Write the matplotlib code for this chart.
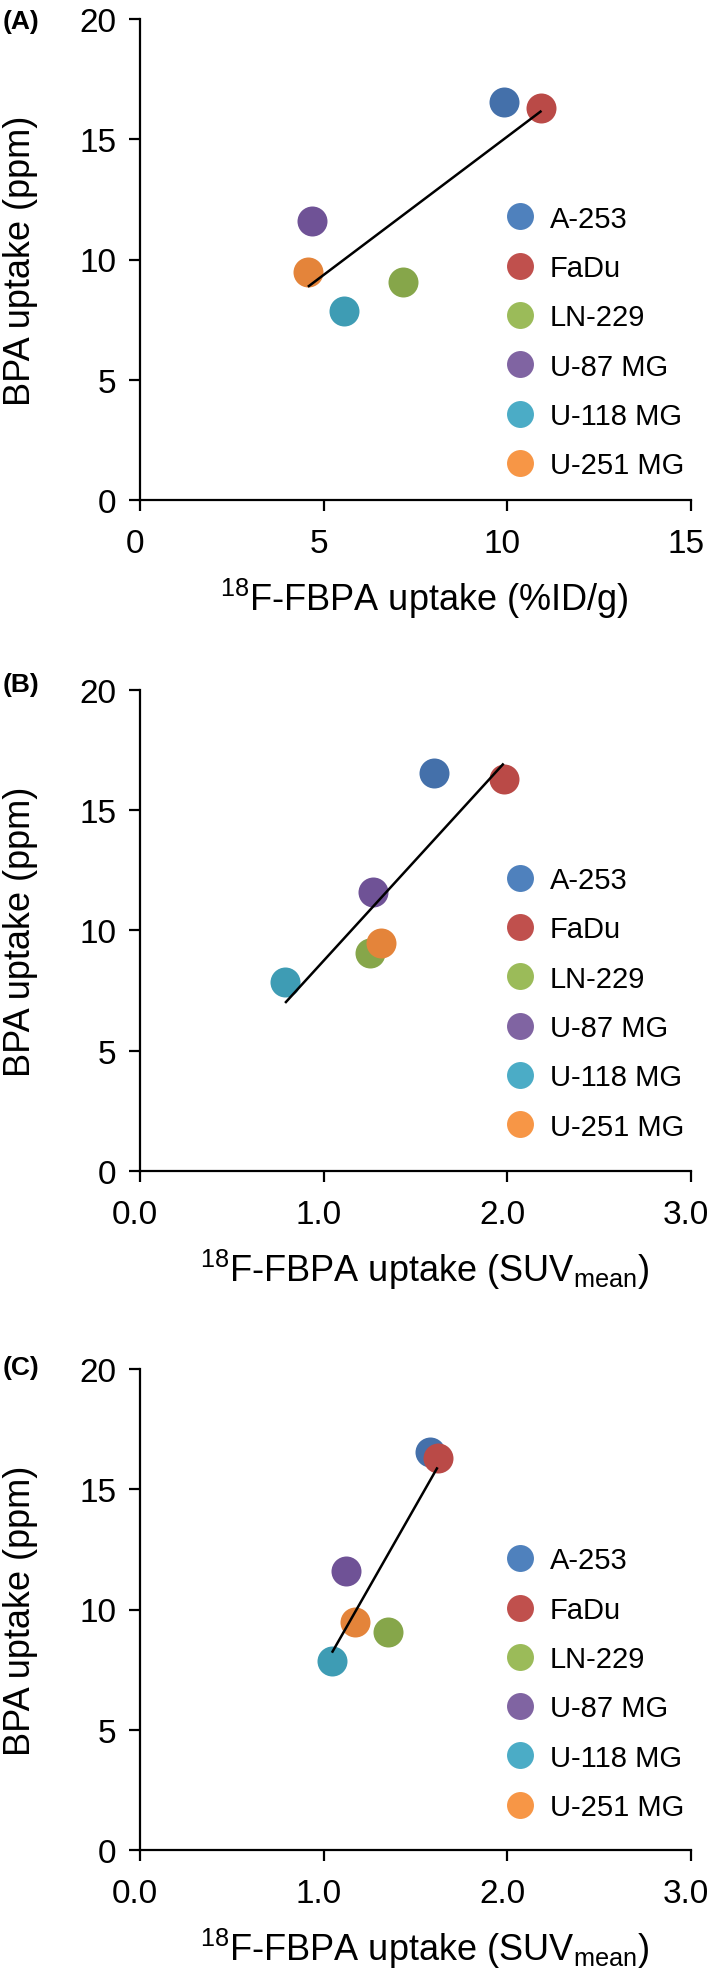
import numpy as np
import matplotlib
matplotlib.use("Agg")
import matplotlib.pyplot as plt
import matplotlib.transforms as mtransforms
from matplotlib.lines import Line2D

plt.rcParams['font.family'] = ['Liberation Sans', 'DejaVu Sans']
plt.rcParams['mathtext.fontset'] = 'custom'
plt.rcParams['mathtext.rm'] = 'Liberation Sans'
plt.rcParams['mathtext.it'] = 'Liberation Sans:italic'
plt.rcParams['mathtext.bf'] = 'Liberation Sans:bold'

# ---------------- data ----------------
cell_lines = ["A-253", "FaDu", "LN-229", "U-87 MG", "U-118 MG", "U-251 MG"]
bpa_ppm = [16.55, 16.30, 9.07, 11.60, 7.87, 9.48]
fbpa_idg = [9.90, 10.93, 7.16, 4.67, 5.56, 4.57]        # panel A
fbpa_suv_b = [1.60, 1.98, 1.25, 1.27, 0.79, 1.31]       # panel B
fbpa_suv_c = [1.58, 1.62, 1.35, 1.12, 1.045, 1.17]      # panel C

legend_colors = ["#4F81BD", "#C0504D", "#9BBB59", "#8064A2", "#4BACC6", "#F79646"]
point_colors = ["#4470AA", "#BA4A47", "#86A64A", "#6F5296", "#3E9CB4", "#E4843A"]

xticks_a = [0, 5, 10, 15]
xticklabels_a = ["0", "5", "10", "15"]
xticks_bc = [0, 1, 2, 3]
xticklabels_bc = ["0.0", "1.0", "2.0", "3.0"]
yticks = [0, 5, 10, 15, 20]

xlabel_a = r"$^{18}$F-FBPA uptake (%ID/g)"
xlabel_bc = r"$^{18}$F-FBPA uptake (SUV$_{\mathrm{mean}}$)"
ylabel = "BPA uptake (ppm)"

W, H = 709, 1983
fig = plt.figure(figsize=(W / 100, H / 100), dpi=100)

ax_left_px, ax_right_px = 140, 691
panels = [
    dict(tag="(A)", x=fbpa_idg, xlim=(0, 15), xt=xticks_a, xtl=xticklabels_a, xl=xlabel_a,
         top=20, bot=501, tagtop=10, legy=0.614),
    dict(tag="(B)", x=fbpa_suv_b, xlim=(0, 3), xt=xticks_bc, xtl=xticklabels_bc, xl=xlabel_bc,
         top=691, bot=1172, tagtop=673, legy=0.634),
    dict(tag="(C)", x=fbpa_suv_c, xlim=(0, 3), xt=xticks_bc, xtl=xticklabels_bc, xl=xlabel_bc,
         top=1370, bot=1851, tagtop=1356, legy=0.631),
]

draw_order = [0, 2, 3, 4, 5, 1]
shift = mtransforms.ScaledTranslation(-5 / 100, 0, fig.dpi_scale_trans)

for p in panels:
    ax = fig.add_axes([ax_left_px / W, 1 - p["bot"] / H,
                       (ax_right_px - ax_left_px) / W, (p["bot"] - p["top"]) / H])
    xs = np.array(p["x"])
    ys = np.array(bpa_ppm)
    for i in draw_order:
        ax.plot(xs[i], ys[i], 'o', ms=21.6, mfc=point_colors[i], mec='none', zorder=3,
                clip_on=False)
    slope, intercept = np.polyfit(xs, ys, 1)
    xf = np.array([xs.min(), xs.max()])
    ax.plot(xf, slope * xf + intercept, color='black', lw=1.8, zorder=4,
            solid_capstyle='butt')

    ax.set_xlim(*p["xlim"])
    ax.set_ylim(0, 20)
    ax.set_xticks(p["xt"])
    ax.set_xticklabels(p["xtl"])
    ax.set_yticks(yticks)
    for s in ["top", "right"]:
        ax.spines[s].set_visible(False)
    for s in ["left", "bottom"]:
        ax.spines[s].set_linewidth(1.6)
    ax.tick_params(axis='both', direction='out', length=8, width=1.6, labelsize=24,
                   colors='black')
    ax.tick_params(axis='x', pad=12)
    ax.tick_params(axis='y', pad=9)
    for lab in ax.get_xticklabels():
        lab.set_transform(lab.get_transform() + shift)

    ax.set_ylabel(ylabel, fontsize=26)
    ax.yaxis.set_label_coords(-0.185, 0.5)
    ax.set_xlabel(p["xl"], fontsize=26, va='top')
    ax.xaxis.set_label_coords(0.517, -0.158)

    handles = [Line2D([], [], marker='o', ls='none', ms=19.4, mfc=c, mec='none')
               for c in legend_colors]
    ax.legend(handles, cell_lines, loc='upper left', bbox_to_anchor=(0.664, p["legy"]),
              frameon=False, fontsize=21, borderpad=0, borderaxespad=0,
              handlelength=1.0, handletextpad=0.5, labelspacing=0.73)

    fig.text(3 / W, 1 - p["tagtop"] / H, p["tag"], fontsize=19, fontweight='bold',
             ha='left', va='top')

fig.savefig("out.png", dpi=100)
